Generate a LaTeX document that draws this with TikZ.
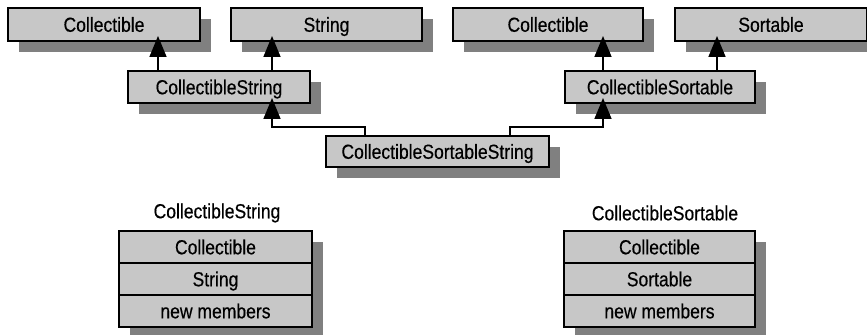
\documentclass[tikz,border=0pt]{standalone}
\usepackage{fontspec}
\setmainfont{Liberation Sans}[FakeStretch=0.86,FakeBold=0.4]
\usetikzlibrary{positioning,shadows,arrows.meta}

\definecolor{boxgray}{gray}{0.78}
\definecolor{shadegray}{gray}{0.5}

\begin{document}
\begin{tikzpicture}[
    x=0.5pt, y=-0.5pt,
    font=\fontsize{10.2}{12}\selectfont,
    cls/.style={rectangle, draw=black, fill=boxgray, line width=1pt, inner sep=0pt,
        minimum height=16.5pt, text centered, text height=7.3pt, text depth=0pt,
        drop shadow={shadow xshift=5.5pt, shadow yshift=-5.5pt, fill=shadegray, opacity=1}},
    member/.style={cls, outer sep=0pt, minimum width=96.5pt, minimum height=16pt},
    title/.style={inner sep=0pt},
    inherit/.style={-{Triangle[length=10.5pt,width=8.5pt]}, line width=0.8pt, shorten >=-3pt}
]
    \useasboundingbox (0,0) rectangle (867,335);

    % Base classes
    \node[cls, minimum width=96pt] (coll) at (104,24.5) {Collectible};
    \node[cls, minimum width=95.5pt] (str) at (326.5,24.5) {String};
    \node[cls, minimum width=95pt] (collb) at (548,24.5) {Collectible};
    \node[cls, minimum width=96pt] (sort) at (771,24.5) {Sortable};

    % Derived classes
    \node[cls, minimum width=91pt, minimum height=16pt] (cstr) at (219,87) {CollectibleString};
    \node[cls, minimum width=95pt, minimum height=16pt] (csort) at (660,87) {CollectibleSortable};
    \node[cls, minimum width=111.5pt, minimum height=15.5pt] (csstr) at (437.5,151.5) {CollectibleSortableString};

    % Inheritance
    \draw[inherit] ([xshift=15.5pt]cstr.north west) -- ([xshift=15.5pt]cstr.north west |- coll.south);
    \draw[inherit] ([xshift=-19.5pt]cstr.north east) -- ([xshift=-19.5pt]cstr.north east |- str.south);
    \draw[inherit] ([xshift=19.5pt]csort.north west) -- ([xshift=19.5pt]csort.north west |- collb.south);
    \draw[inherit] ([xshift=-19.5pt]csort.north east) -- ([xshift=-19.5pt]csort.north east |- sort.south);
    \draw[inherit] ([xshift=20pt]csstr.north west) -- ++(0,-8) -| ([xshift=-19.5pt]cstr.south east);
    \draw[inherit] ([xshift=-20pt]csstr.north east) -- ++(0,-8) -| ([xshift=19.5pt]csort.south west);

    % Object layout of CollectibleString
    \node[title] (lcstr) at (217,213) {CollectibleString};
    \node[member] (lcstra) at (215.5,247) {Collectible};
    \node[member, below=0pt of lcstra] (lcstrb) {String};
    \node[member, below=0pt of lcstrb] (lcstrc) {new members};

    % Object layout of CollectibleSortable
    \node[title] (lcsort) at (665,213) {CollectibleSortable};
    \node[member, minimum width=95.5pt] (lcsorta) at (659.5,247) {Collectible};
    \node[member, minimum width=95.5pt, below=0pt of lcsorta] (lcsortb) {Sortable};
    \node[member, minimum width=95.5pt, below=0pt of lcsortb] (lcsortc) {new members};
\end{tikzpicture}
\end{document}
